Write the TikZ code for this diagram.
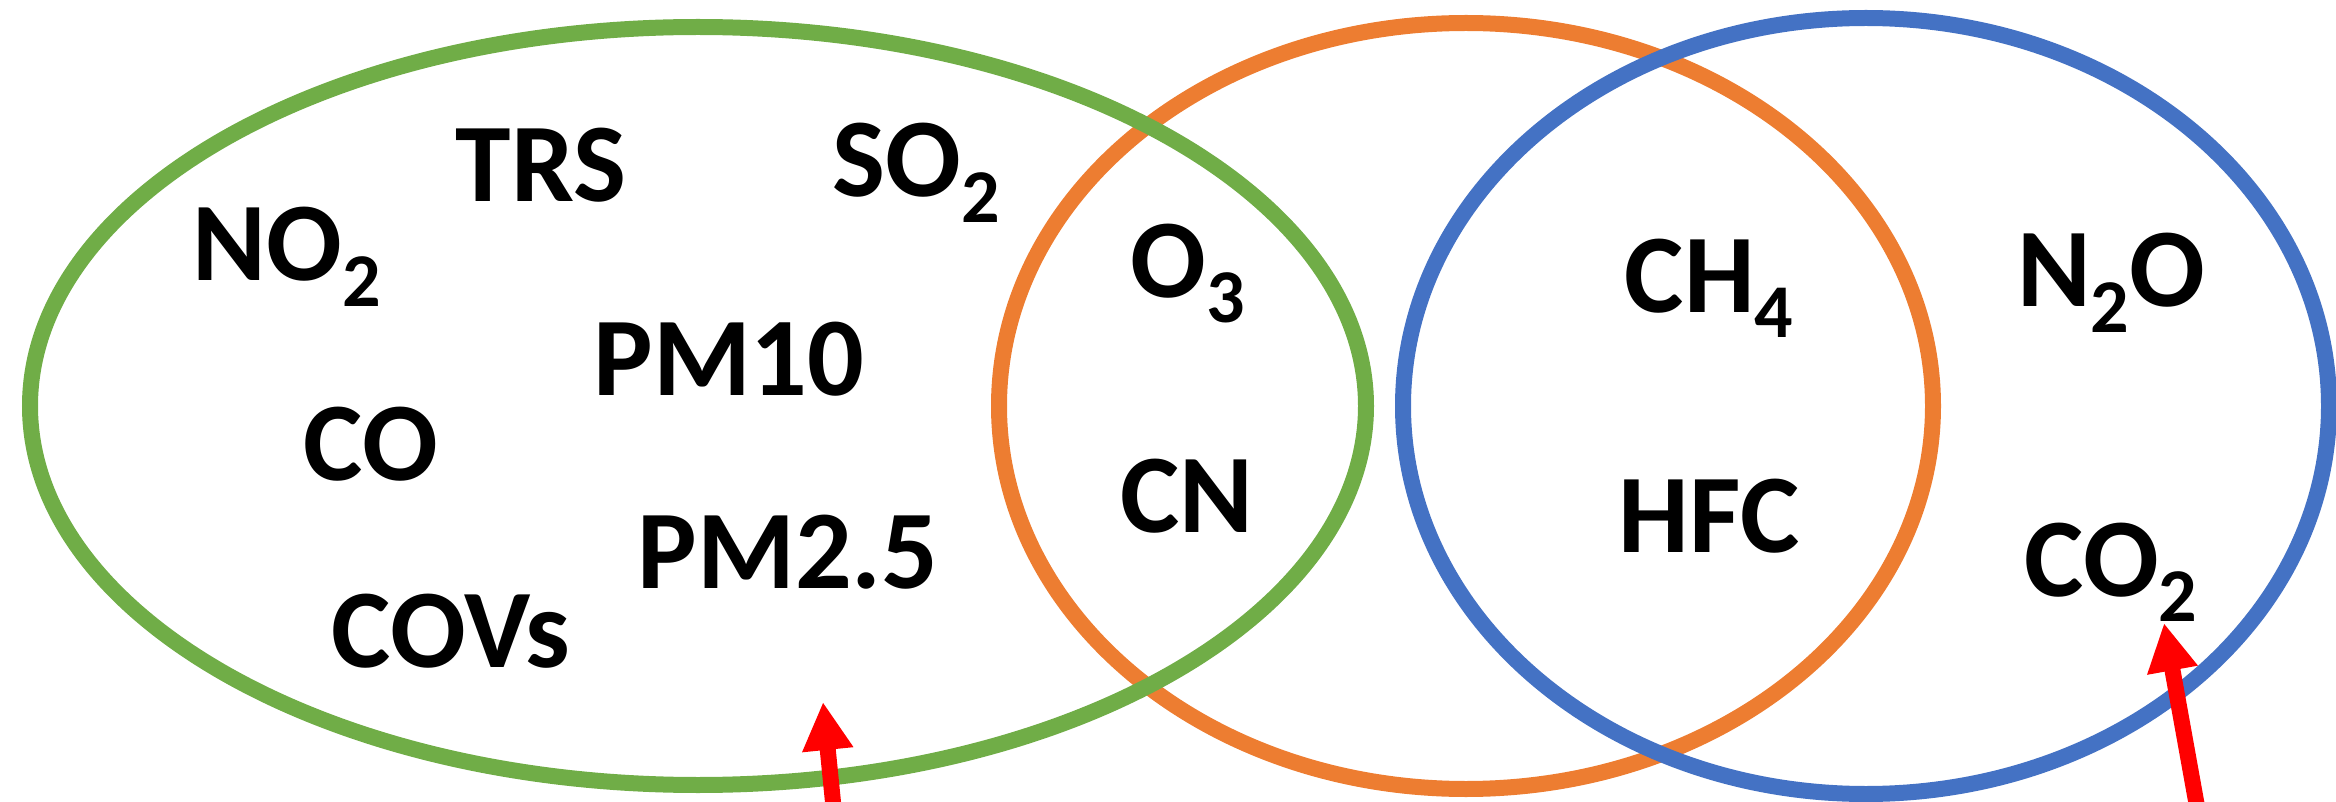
\documentclass[tikz,border=0pt]{standalone}
\usepackage{fontspec}
\usepackage{graphicx}
\setmainfont{Carlito}
\usetikzlibrary{arrows.meta}
\definecolor{vgreen}{HTML}{70AD47}
\definecolor{vorange}{HTML}{ED7D31}
\definecolor{vblue}{HTML}{4472C4}
\definecolor{vred}{HTML}{FF0000}
\newcommand{\chsub}[1]{\raisebox{-0.23em}{\fontsize{19}{19}\selectfont #1}}
\tikzset{
  setline/.style={line width=4pt},
  gas/.style={font=\fontsize{28}{28}\selectfont\bfseries, inner sep=0pt, anchor=base},
  pointer/.style={draw=vred, line width=4pt, -{Triangle[length=12pt,width=12pt]}}
}
\begin{document}
\begin{tikzpicture}[x=0.25pt,y=0.25pt]
\useasboundingbox (0,0) rectangle (2336,-802);
% sets
\draw[setline, vorange] (1466,-406) ellipse [x radius=467, y radius=383];
\draw[setline, vgreen] (698,-406) ellipse [x radius=668, y radius=379];
\draw[setline, vblue] (1866,-406) ellipse [x radius=463, y radius=388];
% labels
\node[gas] (trs) at (541,-202) {TRS};
\node[gas] (no2) at (287,-281) {NO\chsub{2}};
\node[gas] (so2) at (916,-197) {SO\chsub{2}};
\node[gas] (pm10) at (729,-396) {PM10};
\node[gas] (co) at (371,-481) {CO};
\node[gas] (pm25) at (788,-588) {PM2.5};
\node[gas] (covs) at (451,-667) {COVs};
\node[gas] (o3) at (1188,-297) {O\chsub{3}};
\node[gas] (cn) at (1187,-532) {CN};
\node[gas] (ch4) at (1709,-312) {CH\chsub{4}};
\node[gas] (hfc) at (1709,-552) {HFC};
\node[gas] (n2o) at (2111,-307) {N\chsub{2}O};
\node[gas] (co2) at (2111,-596) {CO\chsub{2}};
% pointers
\coordinate (a1s) at (834,-812);
\coordinate (a1t) at (823,-702);
\coordinate (a2s) at (2198,-812);
\coordinate (a2t) at (2164,-623);
\draw[pointer] (a1s) -- (a1t);
\draw[pointer] (a2s) -- (a2t);
\end{tikzpicture}
\end{document}
